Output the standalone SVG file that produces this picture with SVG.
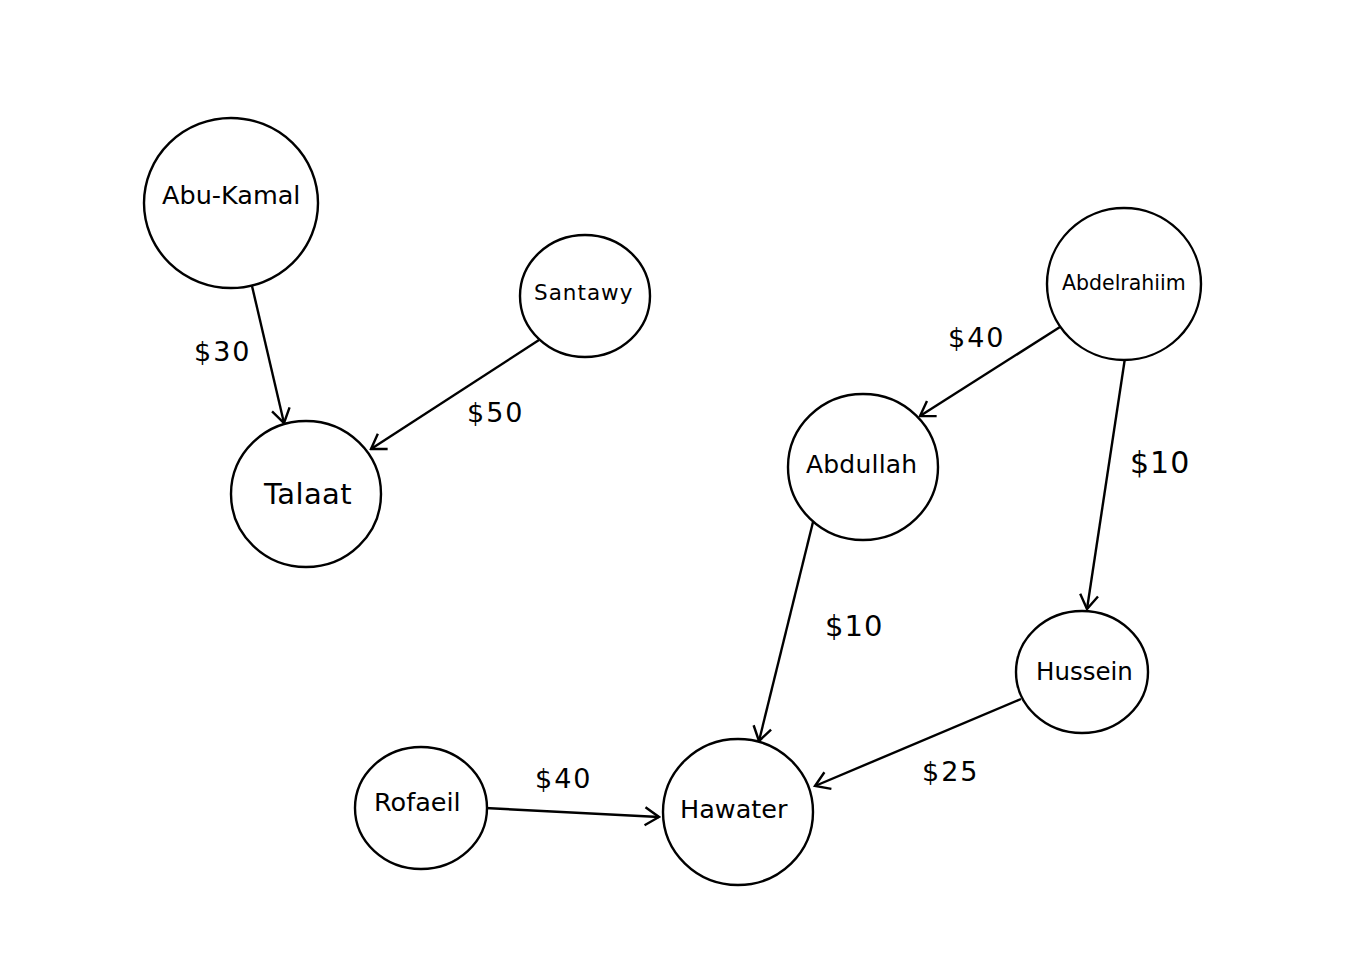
<svg xmlns="http://www.w3.org/2000/svg" width="1361" height="955" viewBox="0 0 1361 955">
<style>
.node ellipse{fill:#fff;stroke:#000;stroke-width:2.4}
text{font-family:"DejaVu Sans",sans-serif;fill:#000}
.e line{stroke:#000;stroke-width:2.4;fill:none}
.el{font-size:27px;letter-spacing:2px}
</style>
<defs>
<marker id="arr" viewBox="-16 -11 18 22" refX="0" refY="0" markerWidth="18" markerHeight="22" markerUnits="userSpaceOnUse" orient="auto">
<path d="M-14,-9 L0,0 L-14,9" fill="none" stroke="#000" stroke-width="2.4"/>
</marker>
</defs>
<rect width="1361" height="955" fill="#fff"/>
<g id="connectors" class="e">
<line x1="252" y1="286" x2="284" y2="423" marker-end="url(#arr)"/>
<line x1="539" y1="340" x2="371" y2="449" marker-end="url(#arr)"/>
<line x1="1060" y1="327" x2="920" y2="416" marker-end="url(#arr)"/>
<line x1="1125" y1="358" x2="1087" y2="609" marker-end="url(#arr)"/>
<line x1="813" y1="522" x2="759" y2="741" marker-end="url(#arr)"/>
<line x1="1021" y1="699" x2="815" y2="786" marker-end="url(#arr)"/>
<line x1="485" y1="808" x2="659" y2="817" marker-end="url(#arr)"/>
</g>
<g id="edge-labels">
<text class="el" x="194" y="361">$30</text>
<text class="el" x="467" y="422">$50</text>
<text class="el" x="948" y="347">$40</text>
<text class="el" x="1130" y="473" style="font-size:30px;letter-spacing:1px">$10</text>
<text class="el" x="825" y="636" style="font-size:29px;letter-spacing:1px">$10</text>
<text class="el" x="922" y="781">$25</text>
<text class="el" x="535" y="788">$40</text>
</g>
<g id="node-abukamal" class="node"><ellipse cx="231" cy="203" rx="87" ry="85"/><text x="162" y="204" font-size="25.5">Abu-Kamal</text></g>
<g id="node-santawy" class="node"><ellipse cx="585" cy="296" rx="65" ry="61"/><text x="534" y="300" font-size="21.5" letter-spacing="1">Santawy</text></g>
<g id="node-talaat" class="node"><ellipse cx="306" cy="494" rx="75" ry="73"/><text x="264" y="504" font-size="29" letter-spacing="0.4">Talaat</text></g>
<g id="node-abdelrahiim" class="node"><ellipse cx="1124" cy="284" rx="77" ry="76"/><text x="1062" y="290" font-size="20.5">Abdelrahiim</text></g>
<g id="node-abdullah" class="node"><ellipse cx="863" cy="467" rx="75" ry="73"/><text x="806" y="473" font-size="25" letter-spacing="0.2">Abdullah</text></g>
<g id="node-hussein" class="node"><ellipse cx="1082" cy="672" rx="66" ry="61"/><text x="1036" y="680" font-size="24.5">Hussein</text></g>
<g id="node-rofaeil" class="node"><ellipse cx="421" cy="808" rx="66" ry="61"/><text x="374" y="811" font-size="25.5">Rofaeil</text></g>
<g id="node-hawater" class="node"><ellipse cx="738" cy="812" rx="75" ry="73"/><text x="680" y="818" font-size="25.5">Hawater</text></g>
</svg>
